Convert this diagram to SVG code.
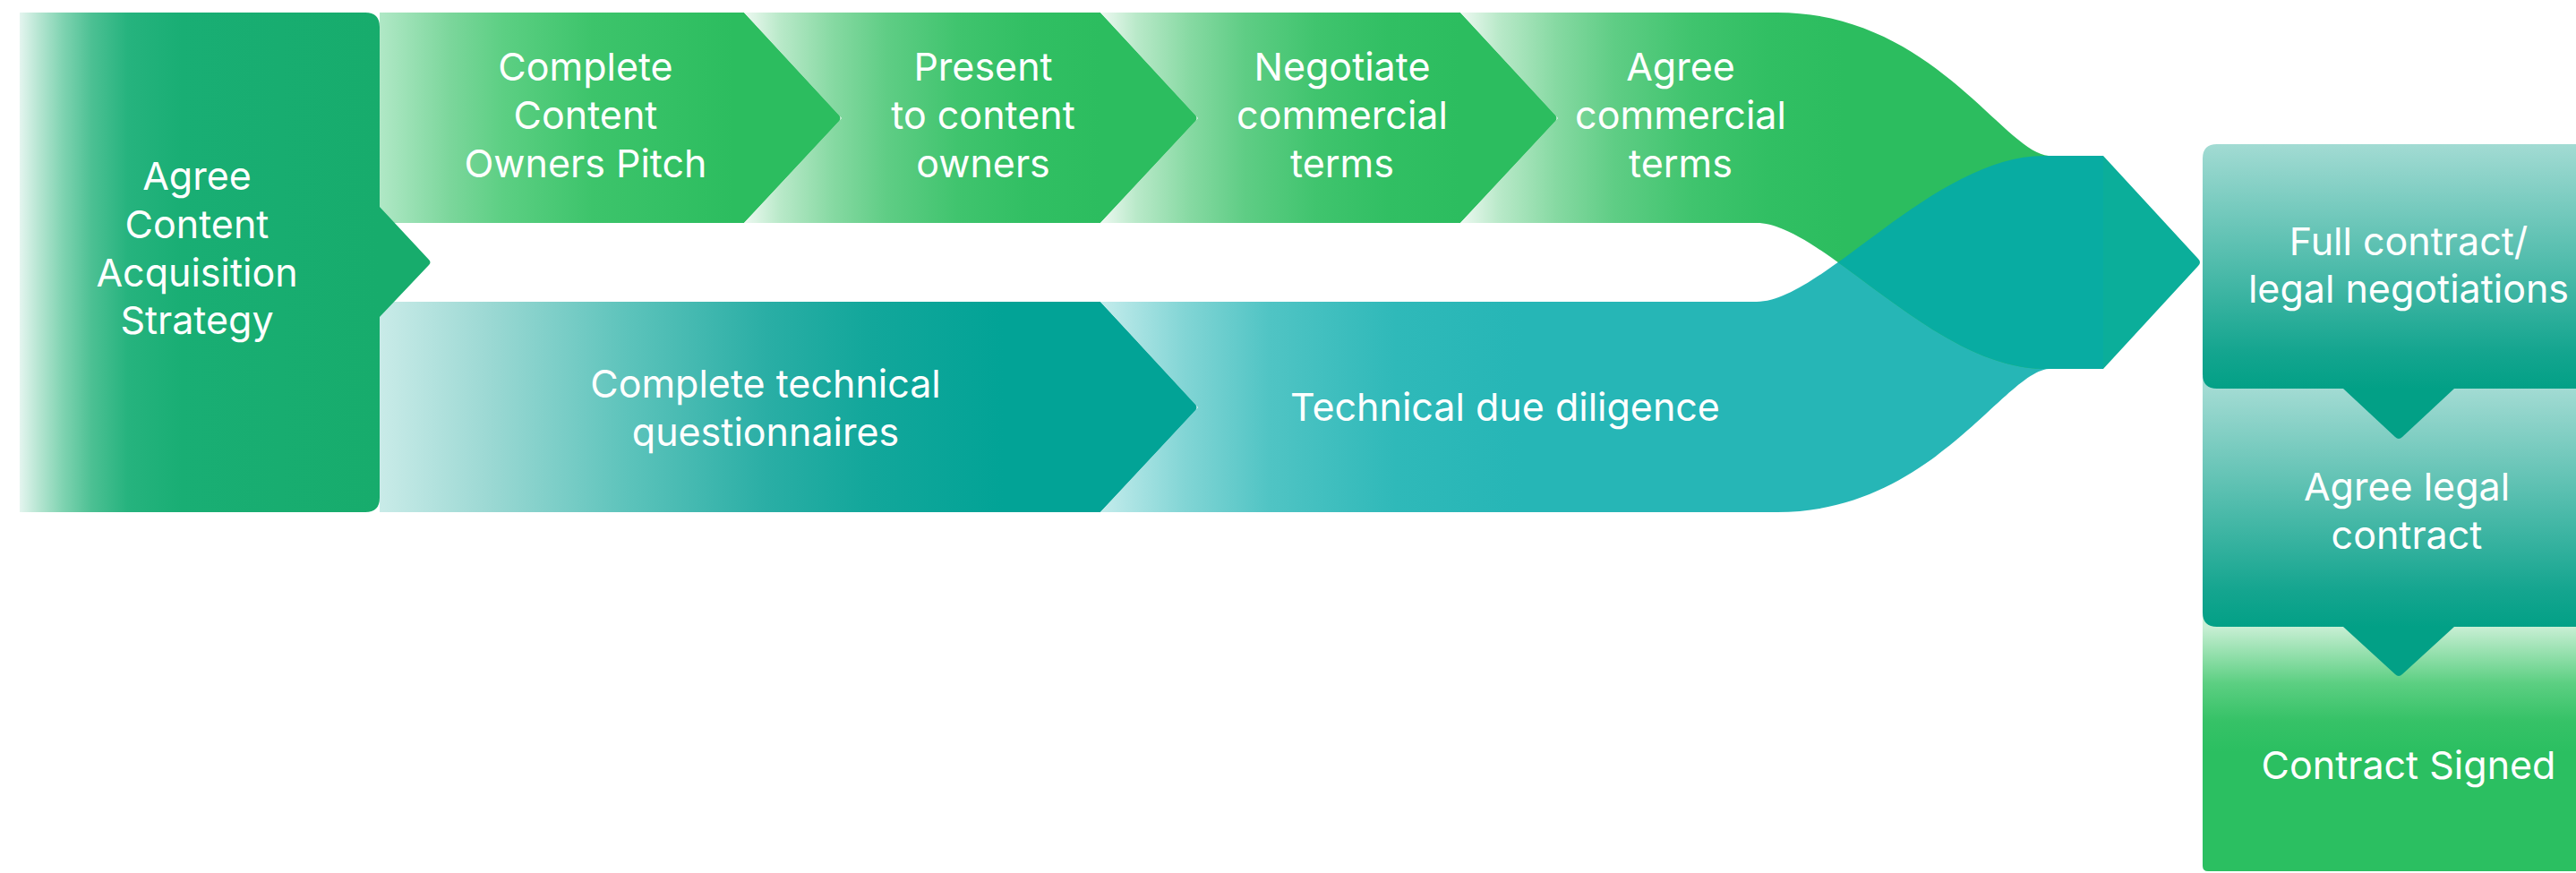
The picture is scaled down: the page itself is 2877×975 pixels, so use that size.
<svg xmlns="http://www.w3.org/2000/svg" width="2877" height="975" viewBox="0 0 2877 975">
<style>
  text { font-family: Inter, "Noto Sans", "Liberation Sans", sans-serif; font-size: 43px; fill: #ffffff; text-anchor: middle; }
</style>
<defs>
  <linearGradient id="gLeft" gradientUnits="userSpaceOnUse" x1="22" y1="0" x2="424" y2="0">
    <stop offset="0" stop-color="#e4f5ef"/>
    <stop offset="0.05" stop-color="#b8e6d3"/>
    <stop offset="0.12" stop-color="#7fd3b1"/>
    <stop offset="0.2" stop-color="#4cc093"/>
    <stop offset="0.3" stop-color="#26b37e"/>
    <stop offset="0.45" stop-color="#19ae74"/>
    <stop offset="1" stop-color="#17ac6c"/>
  </linearGradient>
  <linearGradient id="gC1" gradientUnits="userSpaceOnUse" x1="424" y1="0" x2="820" y2="0">
    <stop offset="0" stop-color="#b0e8c6"/>
    <stop offset="0.2" stop-color="#7bd69b"/>
    <stop offset="0.35" stop-color="#5ccf83"/>
    <stop offset="0.6" stop-color="#3dc46b"/>
    <stop offset="1" stop-color="#2cbd5f"/>
  </linearGradient>
  <linearGradient id="gC2" gradientUnits="userSpaceOnUse" x1="831" y1="0" x2="1229" y2="0">
    <stop offset="0" stop-color="#eef9f2"/>
    <stop offset="0.1" stop-color="#b9e9c9"/>
    <stop offset="0.25" stop-color="#86d9a2"/>
    <stop offset="0.4" stop-color="#5fcd85"/>
    <stop offset="0.6" stop-color="#40c46e"/>
    <stop offset="0.8" stop-color="#31bf63"/>
    <stop offset="1" stop-color="#2cbd5f"/>
  </linearGradient>
  <linearGradient id="gC3" href="#gC2" x1="1229" x2="1631"/>
  <linearGradient id="gC4" href="#gC2" x1="1631" x2="2060"/>
  <linearGradient id="gB1" gradientUnits="userSpaceOnUse" x1="424" y1="0" x2="1120" y2="0">
    <stop offset="0" stop-color="#c9ebe8"/>
    <stop offset="0.17" stop-color="#9dd9d4"/>
    <stop offset="0.4" stop-color="#5cc3bb"/>
    <stop offset="0.62" stop-color="#2aaea5"/>
    <stop offset="0.78" stop-color="#13a79b"/>
    <stop offset="1" stop-color="#02a396"/>
  </linearGradient>
  <linearGradient id="gB2" gradientUnits="userSpaceOnUse" x1="1229" y1="0" x2="1700" y2="0">
    <stop offset="0" stop-color="#c4ecec"/>
    <stop offset="0.2" stop-color="#82d5d5"/>
    <stop offset="0.4" stop-color="#50c4c4"/>
    <stop offset="0.7" stop-color="#2fb9b9"/>
    <stop offset="1" stop-color="#26b6b6"/>
  </linearGradient>
  <linearGradient id="gR1" gradientUnits="userSpaceOnUse" x1="0" y1="161" x2="0" y2="434">
    <stop offset="0" stop-color="#a2dbd3"/>
    <stop offset="0.85" stop-color="#14a58f"/>
    <stop offset="1" stop-color="#02a086"/>
  </linearGradient>
  <linearGradient id="gR2" gradientUnits="userSpaceOnUse" x1="0" y1="434" x2="0" y2="700">
    <stop offset="0" stop-color="#a2dbd3"/>
    <stop offset="0.85" stop-color="#14a58f"/>
    <stop offset="1" stop-color="#02a086"/>
  </linearGradient>
  <linearGradient id="gR3" gradientUnits="userSpaceOnUse" x1="0" y1="700" x2="0" y2="840">
    <stop offset="0" stop-color="#c8efd4"/>
    <stop offset="0.45" stop-color="#5ccf82"/>
    <stop offset="0.75" stop-color="#36c267"/>
    <stop offset="1" stop-color="#2bbf61"/>
  </linearGradient>
  <clipPath id="topRibbonClip">
    <path d="M1631,14 L1985,14 C2160,14 2240,174 2290,174 L2349,174 L2349,412 L2283,412 C2160,412 2035,249 1962,249 L1631,249 Z"/>
  </clipPath>
</defs>
<rect width="2877" height="975" fill="#ffffff"/>

<g id="node-complete-pitch">
  <path d="M424,14 L831,14 L937,128 Q940,132 937,136 L831,249 L424,249 Z" fill="url(#gC1)"/>
  <text x="654" y="90">Complete</text>
  <text x="654" y="144">Content</text>
  <text x="654" y="198">Owners Pitch</text>
</g>
<g id="node-present">
  <path d="M831,14 L1229,14 L1335,128 Q1338,132 1335,136 L1229,249 L831,249 L940,132 Z" fill="url(#gC2)"/>
  <text x="1098" y="90">Present</text>
  <text x="1098" y="144">to content</text>
  <text x="1098" y="198">owners</text>
</g>
<g id="node-negotiate">
  <path d="M1229,14 L1631,14 L1737,128 Q1740,132 1737,136 L1631,249 L1229,249 L1338,132 Z" fill="url(#gC3)"/>
  <text x="1499" y="90">Negotiate</text>
  <text x="1499" y="144">commercial</text>
  <text x="1499" y="198">terms</text>
</g>
<g id="node-complete-technical">
  <path d="M424,337 L1229,337 L1335,451 Q1338,455 1335,459 L1229,572 L424,572 Z" fill="url(#gB1)"/>
  <text x="855" y="444">Complete technical</text>
  <text x="855" y="498">questionnaires</text>
</g>
<g id="node-technical-due-diligence">
  <path d="M1229,337 L1962,337 C2035,337 2160,174 2283,174 L2349,174 L2349,412 L2290,412 C2240,412 2160,572 1985,572 L1229,572 L1338,455 Z" fill="url(#gB2)"/>
  <text x="1681" y="470">Technical due diligence</text>
</g>
<g id="node-agree-commercial">
  <path d="M1631,14 L1985,14 C2160,14 2240,174 2290,174 L2349,174 L2349,412 L2283,412 C2160,412 2035,249 1962,249 L1631,249 L1740,132 Z" fill="url(#gC4)"/>
  <text x="1877" y="90">Agree</text>
  <text x="1877" y="144">commercial</text>
  <text x="1877" y="198">terms</text>
</g>

<g id="connectors">
  <path d="M1229,337 L1962,337 C2035,337 2160,174 2283,174 L2349,174 L2349,412 L2290,412 C2240,412 2160,572 1985,572 L1229,572 Z" fill="#08aca2" clip-path="url(#topRibbonClip)"/>
  <path d="M2349,174 L2455,289 Q2459,293 2455,297 L2349,412 Z" fill="#0bae9a"/>
</g>

<g id="node-agree-strategy">
  <path d="M22,14 L408,14 Q424,14 424,30 L424,231 L479,290 Q482,293 479,296 L424,354 L424,556 Q424,572 408,572 L22,572 Z" fill="url(#gLeft)"/>
  <text x="220" y="212">Agree</text>
  <text x="220" y="266">Content</text>
  <text x="220" y="320">Acquisition</text>
  <text x="220" y="373">Strategy</text>
</g>

<g id="node-contract-signed">
  <path d="M2460,685 H2900 V973 H2466 Q2460,973 2460,967 Z" fill="url(#gR3)"/>
  <text x="2690" y="870">Contract Signed</text>
</g>
<g id="node-agree-legal">
  <path d="M2460,420 H2900 V700 H2741 L2683,753 Q2679,757 2675,753 L2617,700 H2476 Q2460,700 2460,684 Z" fill="url(#gR2)"/>
  <text x="2688" y="559">Agree legal</text>
  <text x="2688" y="613">contract</text>
</g>
<g id="node-full-contract">
  <path d="M2476,161 H2900 V434 H2741 L2683,488 Q2679,492 2675,488 L2617,434 H2476 Q2460,434 2460,418 V177 Q2460,161 2476,161 Z" fill="url(#gR1)"/>
  <text x="2690" y="285">Full contract/</text>
  <text x="2690" y="338">legal negotiations</text>
</g>
</svg>
